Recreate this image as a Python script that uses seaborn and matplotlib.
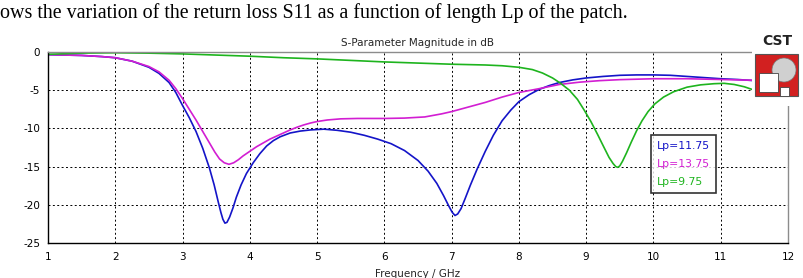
import numpy as np
import pandas as pd
import matplotlib
matplotlib.use("Agg")
import matplotlib.pyplot as plt
from matplotlib.patches import Rectangle, Ellipse
import seaborn as sns

# ---- data ----
labels = ["Lp=11.75", "Lp=13.75", "Lp=9.75"]
colors = ["#1414c8", "#d21ed2", "#1eb41e"]

f_blue = [1.0, 1.5, 1.8, 2.0, 2.25, 2.5, 2.65, 2.8, 2.9, 3.0, 3.1, 3.2, 3.3, 3.4, 3.47,
          3.53, 3.57, 3.6, 3.63, 3.66, 3.7, 3.75, 3.8, 3.87, 3.95, 4.05, 4.15, 4.25,
          4.35, 4.45, 4.6, 4.75, 4.9, 5.1, 5.3, 5.5, 5.7, 5.9, 6.1, 6.3, 6.5, 6.65, 6.78,
          6.88, 6.96, 7.01, 7.05, 7.09, 7.14, 7.2, 7.28, 7.38, 7.5, 7.62, 7.75, 7.88, 8.0,
          8.15, 8.3, 8.45, 8.6, 8.8, 9.0, 9.25, 9.5, 9.75, 10.0, 10.25, 10.5, 10.75,
          11.0, 11.25, 11.5]
s_blue = [-0.35, -0.45, -0.6, -0.75, -1.2, -2.0, -2.8, -4.0, -5.3, -7.0, -8.6, -10.4,
          -12.6, -15.2, -17.4, -19.6, -21.0, -21.9, -22.4, -22.3, -21.6, -20.4, -19.0,
          -17.4, -15.9, -14.5, -13.3, -12.3, -11.6, -11.1, -10.6, -10.35, -10.2, -10.1,
          -10.25, -10.5, -10.9, -11.4, -12.0, -12.9, -14.2, -15.6, -17.2, -18.8, -20.2,
          -21.0, -21.4, -21.2, -20.5, -19.2, -17.4, -15.3, -13.0, -10.9, -9.0, -7.6, -6.5,
          -5.6, -4.9, -4.4, -4.0, -3.65, -3.4, -3.2, -3.05, -3.0, -3.0, -3.05, -3.2,
          -3.35, -3.5, -3.6, -3.75]

f_mag = [1.0, 1.5, 1.8, 2.0, 2.25, 2.5, 2.65, 2.8, 2.9, 3.0, 3.1, 3.2, 3.3, 3.4, 3.48,
         3.55, 3.62, 3.69, 3.76, 3.83, 3.9, 4.0, 4.1, 4.2, 4.3, 4.4, 4.5, 4.6, 4.7, 4.8,
         4.9, 5.0, 5.15, 5.35, 5.6, 6.0, 6.3, 6.6, 6.85, 7.0, 7.25, 7.5, 7.75, 8.0, 8.3,
         8.6, 8.9, 9.2, 9.5, 10.0, 10.5, 11.0, 11.5]
s_mag = [-0.35, -0.45, -0.6, -0.75, -1.2, -1.9, -2.6, -3.7, -4.8, -6.1, -7.5, -8.9,
         -10.4, -11.9, -13.1, -14.0, -14.5, -14.7, -14.5, -14.1, -13.6, -13.0, -12.4,
         -11.9, -11.4, -11.0, -10.6, -10.2, -9.85, -9.55, -9.3, -9.1, -8.9, -8.75, -8.7,
         -8.7, -8.65, -8.5, -8.1, -7.8, -7.2, -6.6, -5.9, -5.3, -4.8, -4.25, -3.95, -3.75,
         -3.62, -3.5, -3.5, -3.6, -3.7]

f_green = [1.0, 1.5, 2.0, 2.5, 3.0, 3.5, 4.0, 4.5, 5.0, 5.5, 6.0, 6.5, 7.0, 7.5, 7.75,
           8.0, 8.2, 8.35, 8.5, 8.62, 8.75, 8.87, 8.97, 9.07, 9.17, 9.26, 9.34, 9.4, 9.44,
           9.47, 9.5, 9.54, 9.6, 9.67, 9.75, 9.83, 9.92, 10.02, 10.15, 10.3, 10.5, 10.7,
           10.9, 11.05, 11.2, 11.35, 11.5]
s_green = [-0.3, -0.15, -0.1, -0.15, -0.25, -0.4, -0.55, -0.75, -0.9, -1.1, -1.3, -1.45,
           -1.6, -1.7, -1.8, -2.0, -2.3, -2.75, -3.4, -4.1, -5.0, -6.2, -7.6, -9.1, -10.8,
           -12.4, -13.8, -14.6, -15.0, -15.1, -14.9, -14.3, -13.2, -11.8, -10.3, -9.0,
           -7.8, -6.8, -5.9, -5.2, -4.6, -4.3, -4.15, -4.1, -4.25, -4.55, -5.0]

x_ticks = list(range(1, 13))
y_ticks = [0, -5, -10, -15, -20, -25]

caption = "ows the variation of the return loss S11 as a function of length Lp of the patch."
title = "S-Parameter Magnitude in dB"
xlabel = "Frequency / GHz"

df = pd.concat([
    pd.DataFrame({"f": f_blue, "s": s_blue, "Lp": labels[0]}),
    pd.DataFrame({"f": f_mag, "s": s_mag, "Lp": labels[1]}),
    pd.DataFrame({"f": f_green, "s": s_green, "Lp": labels[2]}),
], ignore_index=True)

sns.set_theme(style="white")
plt.rcParams["font.family"] = ["DejaVu Sans"]

fig = plt.figure(figsize=(8.04, 2.78), dpi=100)
ax = fig.add_axes([48 / 804, 35 / 278, 740 / 804, 191 / 278])

sns.lineplot(data=df, x="f", y="s", hue="Lp", palette=dict(zip(labels, colors)),
             hue_order=labels, estimator=None, sort=False, linewidth=1.2, ax=ax)

ax.set_xlim(1, 12)
ax.set_ylim(-25, 0)
ax.set_xticks(x_ticks)
ax.set_yticks(y_ticks)
ax.set_xticklabels([str(t) for t in x_ticks])
ax.set_yticklabels([str(t) for t in y_ticks])
ax.tick_params(axis="both", direction="inout", length=5, width=0.8, color="black",
               labelsize=7.5, labelcolor="black", pad=3)
ax.tick_params(axis="x", pad=4)
ax.grid(True, color="black", linestyle=(0, (2, 2.5)), linewidth=0.7)
for side in ["left", "bottom"]:
    ax.spines[side].set_color("black")
    ax.spines[side].set_linewidth(1.0)
for side in ["top", "right"]:
    ax.spines[side].set_color("#8c8c8c")
    ax.spines[side].set_linewidth(1.0)

ax.set_xlabel(xlabel, fontsize=7.5, labelpad=5)
ax.set_ylabel("")
ax.set_title(title, fontsize=7.5, pad=4)

leg = ax.legend(loc="upper left", bbox_to_anchor=(0.815, 0.565), handlelength=0,
                handletextpad=0, labelcolor="linecolor", fancybox=False,
                frameon=True, fontsize=7.8, borderpad=0.55, labelspacing=0.75,
                borderaxespad=0)
for h in leg.legend_handles:
    h.set_visible(False)
leg.get_frame().set_edgecolor("black")
leg.get_frame().set_linewidth(1.2)

# caption text at the top (clipped on the left in the reference)
fig.text(0.0, 1 - 18 / 278, caption, family=["Liberation Serif"], fontsize=14.4,
         ha="left", va="baseline", color="black")

# CST logo (decoration)
fig.patches.append(Rectangle((752 / 804, 1 - 106 / 278), 52 / 804, 80 / 278,
                             transform=fig.transFigure, facecolor="white",
                             edgecolor="none", zorder=5))
fig.text(777 / 804, 1 - 45 / 278, "CST", fontsize=10, fontweight="bold",
         ha="center", va="baseline", color="#222222", zorder=6)
fig.patches.append(Rectangle((755 / 804, 1 - 96 / 278), 43 / 804, 42 / 278,
                             transform=fig.transFigure, facecolor="#d22020",
                             edgecolor="#555555", linewidth=0.8, zorder=6))
fig.patches.append(Ellipse((784 / 804, 1 - 70 / 278), 24 / 804, 24 / 278,
                           transform=fig.transFigure, facecolor="#d0d0d0",
                           edgecolor="#777777", linewidth=0.5, zorder=7))
fig.patches.append(Rectangle((759 / 804, 1 - 92 / 278), 19 / 804, 19 / 278,
                             transform=fig.transFigure, facecolor="white",
                             edgecolor="#444444", linewidth=0.6, zorder=8))
fig.patches.append(Rectangle((780 / 804, 1 - 96 / 278), 9 / 804, 9 / 278,
                             transform=fig.transFigure, facecolor="white",
                             edgecolor="#444444", linewidth=0.6, zorder=8))

fig.savefig("out.png", dpi=100)
